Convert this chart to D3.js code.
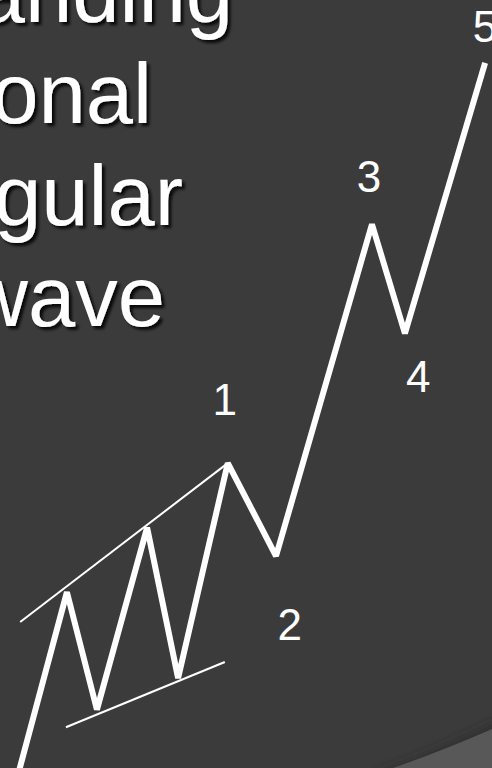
<!DOCTYPE html>
<html>
<head>
<meta charset="utf-8">
<script src="https://cdn.jsdelivr.net/npm/d3@7"></script>
<style>
  html, body { margin: 0; padding: 0; background: #3b3b3b; overflow: hidden; }
  svg { display: block; }
</style>
</head>
<body>
<div id="chart"></div>
<script>
// wave path: time (0-100) and price (0-100)
const waveTime  = [3.9, 13.6, 19.7, 29.9, 36.2, 46.3, 56.1, 75.6, 82.3, 98.6];
const wavePrice = [-0.3, 22.9, 7.6, 31.3, 11.7, 39.7, 27.6, 70.8, 56.6, 91.8];

// diagonal trendlines
const upperTime  = [4.1, 46.3];
const upperPrice = [19.0, 39.7];
const lowerTime  = [13.4, 45.7];
const lowerPrice = [5.3, 13.8];

// wave labels
const labelText  = ["1", "2", "3", "4", "5"];
const labelTime  = [45.7, 58.9, 75.0, 85.0, 98.6];
const labelPrice = [46.0, 16.7, 75.0, 49.0, 94.5];

// title lines (left part runs off the slide)
const titleLines = ["Expanding", "diagonal", "triangular", "wave"];
const titleEnds  = [233, 152, 183, 165];

const width = 492, height = 768;

const svg = d3.select("#chart").append("svg")
  .attr("width", width)
  .attr("height", height);

const defs = svg.append("defs");
const shadow = defs.append("filter").attr("id", "shadow")
  .attr("x", "-20%").attr("y", "-20%").attr("width", "140%").attr("height", "140%");
shadow.append("feDropShadow")
  .attr("dx", 3).attr("dy", 3).attr("stdDeviation", 1.5)
  .attr("flood-color", "#000").attr("flood-opacity", 0.85);

const blur = defs.append("filter").attr("id", "blur")
  .attr("x", "-20%").attr("y", "-50%").attr("width", "140%").attr("height", "200%");
blur.append("feGaussianBlur").attr("stdDeviation", 6);

svg.append("rect").attr("width", width).attr("height", height).attr("fill", "#3b3b3b");

// corner swoosh of the slide theme
svg.append("path")
  .attr("d", "M380,780 Q440,758 500,728")
  .attr("fill", "none")
  .attr("stroke", "#2a2a2a")
  .attr("stroke-width", 10)
  .attr("filter", "url(#blur)");
svg.append("path")
  .attr("d", "M393,768 Q442,751 492,729 L492,768 Z")
  .attr("fill", "#585858");

const x = d3.scaleLinear().domain([0, 100]).range([0, width]);
const y = d3.scaleLinear().domain([0, 100]).range([height, 0]);

// title
svg.append("g")
  .attr("filter", "url(#shadow)")
  .selectAll("text")
  .data(titleLines)
  .join("text")
  .attr("x", (d, i) => titleEnds[i])
  .attr("y", (d, i) => 22 + i * 101.3)
  .attr("text-anchor", "end")
  .attr("font-family", "'Liberation Sans', Arial, sans-serif")
  .attr("font-size", 85)
  .attr("fill", "#fff")
  .text(d => d);

const line = d3.line()
  .x(d => x(d[0]))
  .y(d => y(d[1]));

svg.append("path")
  .datum(d3.zip(upperTime, upperPrice))
  .attr("d", line)
  .attr("fill", "none")
  .attr("stroke", "#fff")
  .attr("stroke-width", 2);

svg.append("path")
  .datum(d3.zip(lowerTime, lowerPrice))
  .attr("d", line)
  .attr("fill", "none")
  .attr("stroke", "#fff")
  .attr("stroke-width", 2);

svg.append("path")
  .datum(d3.zip(waveTime, wavePrice))
  .attr("d", line)
  .attr("fill", "none")
  .attr("stroke", "#fff")
  .attr("stroke-width", 6)
  .attr("stroke-linejoin", "miter")
  .attr("stroke-miterlimit", 2);

svg.append("g")
  .selectAll("text")
  .data(labelText)
  .join("text")
  .attr("x", (d, i) => x(labelTime[i]))
  .attr("y", (d, i) => y(labelPrice[i]))
  .attr("text-anchor", "middle")
  .attr("font-family", "'Liberation Sans', Arial, sans-serif")
  .attr("font-size", 44)
  .attr("fill", "#fff")
  .text(d => d);
</script>
</body>
</html>
